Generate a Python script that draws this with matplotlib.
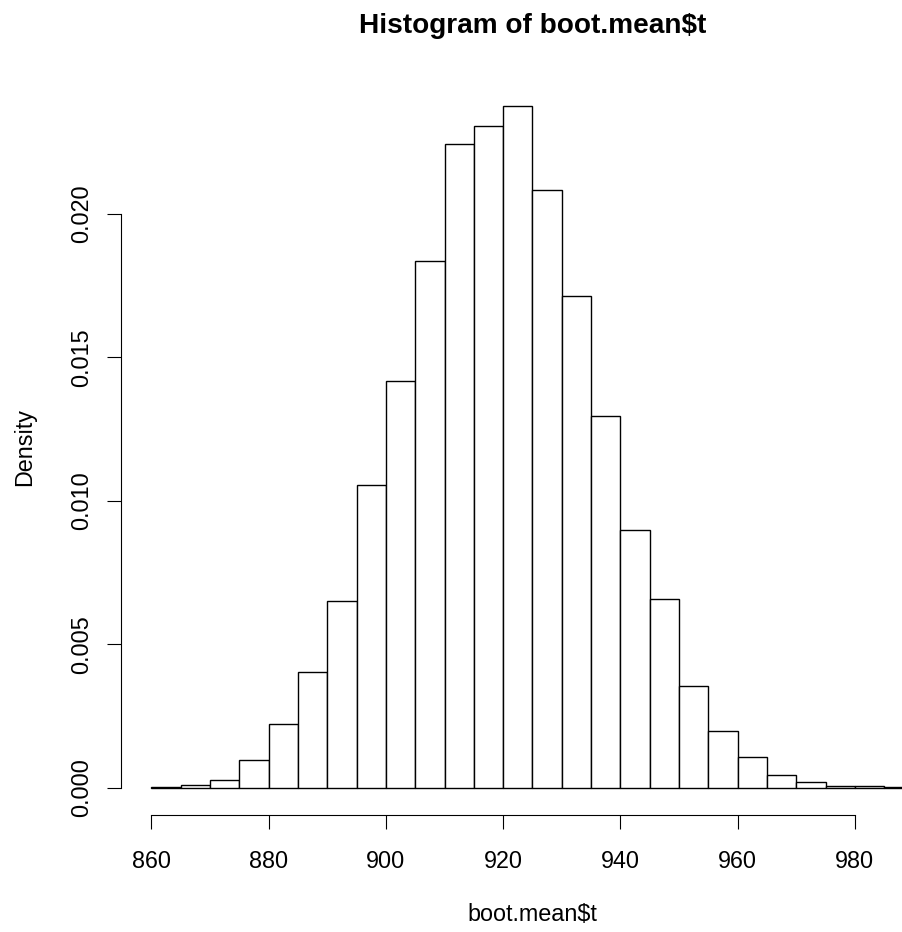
import numpy as np
import matplotlib
matplotlib.use('Agg')
import matplotlib.pyplot as plt

plt.rcParams['font.family'] = ['Liberation Sans', 'DejaVu Sans']

# bin edges of the histogram (width 5) and density of each bin
bin_left = [860, 865, 870, 875, 880, 885, 890, 895, 900, 905, 910, 915, 920,
            925, 930, 935, 940, 945, 950, 955, 960, 965, 970, 975, 980, 985]
density = [0.00004, 0.00008, 0.00026, 0.00098, 0.00221, 0.00402, 0.00650,
           0.01054, 0.01418, 0.01835, 0.02242, 0.02307, 0.02376, 0.02084,
           0.01714, 0.01295, 0.00899, 0.00657, 0.00355, 0.00198, 0.00108,
           0.00044, 0.00021, 0.00007, 0.00006, 0.00002]
bin_width = 5

x_ticks = [860, 880, 900, 920, 940, 960, 980]
y_ticks = [0.000, 0.005, 0.010, 0.015, 0.020]
y_tick_labels = ['0.000', '0.005', '0.010', '0.015', '0.020']

W, H = 903, 932
fig = plt.figure(figsize=(W / 100, H / 100), dpi=100)
# plot region like R: right part falls off the picture
left, right, top, bottom = 121, 944, 78.5, 815
ax = fig.add_axes([left / W, 1 - bottom / H, (right - left) / W, (bottom - top) / H])

ax.bar(bin_left, density, width=bin_width, align='edge', color='white',
       edgecolor='black', linewidth=1.0)

xmin, xmax = bin_left[0], bin_left[-1] + bin_width
ymax = max(density)
ax.set_xlim(xmin - 0.04 * (xmax - xmin), xmax + 0.04 * (xmax - xmin))
ax.set_ylim(-0.04 * ymax, ymax * 1.04)

for s in ['top', 'right']:
    ax.spines[s].set_visible(False)
ax.spines['left'].set_bounds(0, 0.020)
ax.spines['bottom'].set_bounds(860, 980)
for s in ['left', 'bottom']:
    ax.spines[s].set_linewidth(0.8)

fs = 16.8
ax.set_xticks(x_ticks)
ax.set_xticklabels([str(t) for t in x_ticks])
ax.set_yticks(y_ticks)
ax.set_yticklabels(y_tick_labels, rotation=90, va='center')
ax.tick_params(axis='both', direction='out', length=10, width=0.8, labelsize=fs)
ax.tick_params(axis='x', pad=15)
ax.tick_params(axis='y', pad=10)

cx = 0.5 * (left + right) / W
fig.text(cx, 1 - 33 / H, 'Histogram of boot.mean$t', ha='center', va='baseline',
         fontsize=fs * 1.2, fontweight='bold')
fig.text(cx, 1 - 921 / H, r'boot.mean\$t', ha='center', va='baseline', fontsize=fs)
fig.text(31 / W, 1 - (top + bottom) / 2 / H, 'Density', rotation=90,
         rotation_mode='anchor', ha='center', va='baseline', fontsize=fs)

fig.savefig('out.png', dpi=100)
